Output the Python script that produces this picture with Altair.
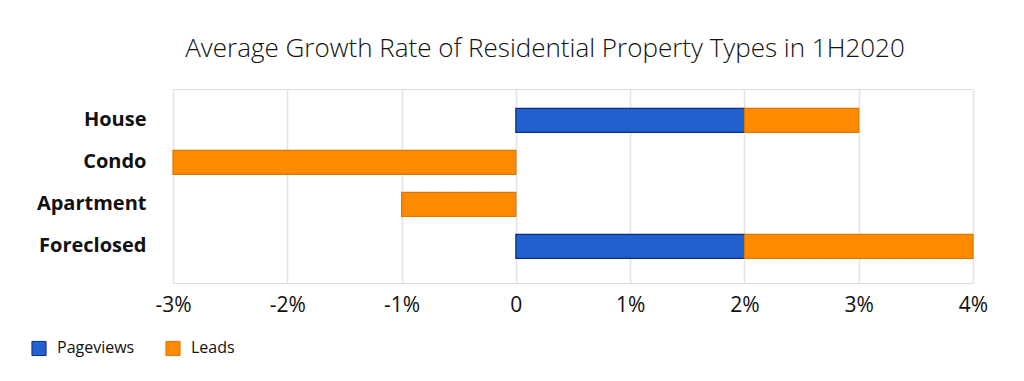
import altair as alt
import pandas as pd

categories = ["House", "Condo", "Apartment", "Foreclosed"]
pageviews = [2, 0, 0, 2]
leads = [1, -3, -1, 2]
series = ["Pageviews", "Leads"]
tick_values = [-3, -2, -1, 0, 1, 2, 3, 4]

rows = []
for c, p, l in zip(categories, pageviews, leads):
    rows.append({"category": c, "series": "Pageviews", "value": p, "ord": 0})
    rows.append({"category": c, "series": "Leads", "value": l, "ord": 1})
df = pd.DataFrame(rows)

chart = (
    alt.Chart(df)
    .transform_filter("datum.value != 0")
    .mark_bar(size=24, strokeWidth=1.2)
    .encode(
        y=alt.Y(
            "category:N",
            sort=categories,
            title=None,
            scale=alt.Scale(paddingInner=0, paddingOuter=0.31, align=0.4),
            axis=alt.Axis(
                ticks=False,
                domain=False,
                labelPadding=27,
                labelFont="Open Sans",
                labelFontWeight=700,
                labelFontSize=20,
                labelColor="#111111",
            ),
        ),
        x=alt.X(
            "value:Q",
            stack="zero",
            title=None,
            scale=alt.Scale(domain=[-3, 4], nice=False),
            axis=alt.Axis(
                values=tick_values,
                labelExpr="datum.value == 0 ? '0' : datum.value + '%'",
                labelFlush=False,
                ticks=False,
                domain=False,
                grid=True,
                gridColor="#E3E3E3",
                gridWidth=1.5,
                labelPadding=11,
                labelFont="Open Sans",
                labelFontSize=21,
                labelColor="#111111",
            ),
        ),
        color=alt.Color(
            "series:N",
            sort=series,
            scale=alt.Scale(domain=series, range=["#2161CF", "#FF8A00"]),
            legend=alt.Legend(
                title=None,
                orient="none",
                legendX=-142,
                legendY=251,
                direction="horizontal",
                symbolType="square",
                symbolSize=200,
                symbolStrokeWidth=1,
                labelFont="Open Sans",
                labelFontSize=16,
                labelColor="#111111",
                columnPadding=28,
                labelOffset=10,
            ),
        ),
        stroke=alt.Stroke(
            "series:N",
            sort=series,
            scale=alt.Scale(domain=series, range=["#0E2A84", "#D97800"]),
            legend=None,
        ),
        order=alt.Order("ord:Q"),
    )
    .properties(
        width=800,
        height=194,
        autosize=alt.AutoSizeParams(type="none"),
        padding={"left": 165, "top": 81, "right": 43, "bottom": 92},
        title=alt.Title(
            "Average Growth Rate of Residential Property Types in 1H2020",
            font="Open Sans",
            fontWeight=300,
            fontSize=26,
            color="#111111",
            offset=27,
            dx=-28,
        ),
    )
    .configure_view(stroke=None)
    .configure(background="white")
)

chart.save("out.html", embed_options={"renderer": "svg", "actions": False})
